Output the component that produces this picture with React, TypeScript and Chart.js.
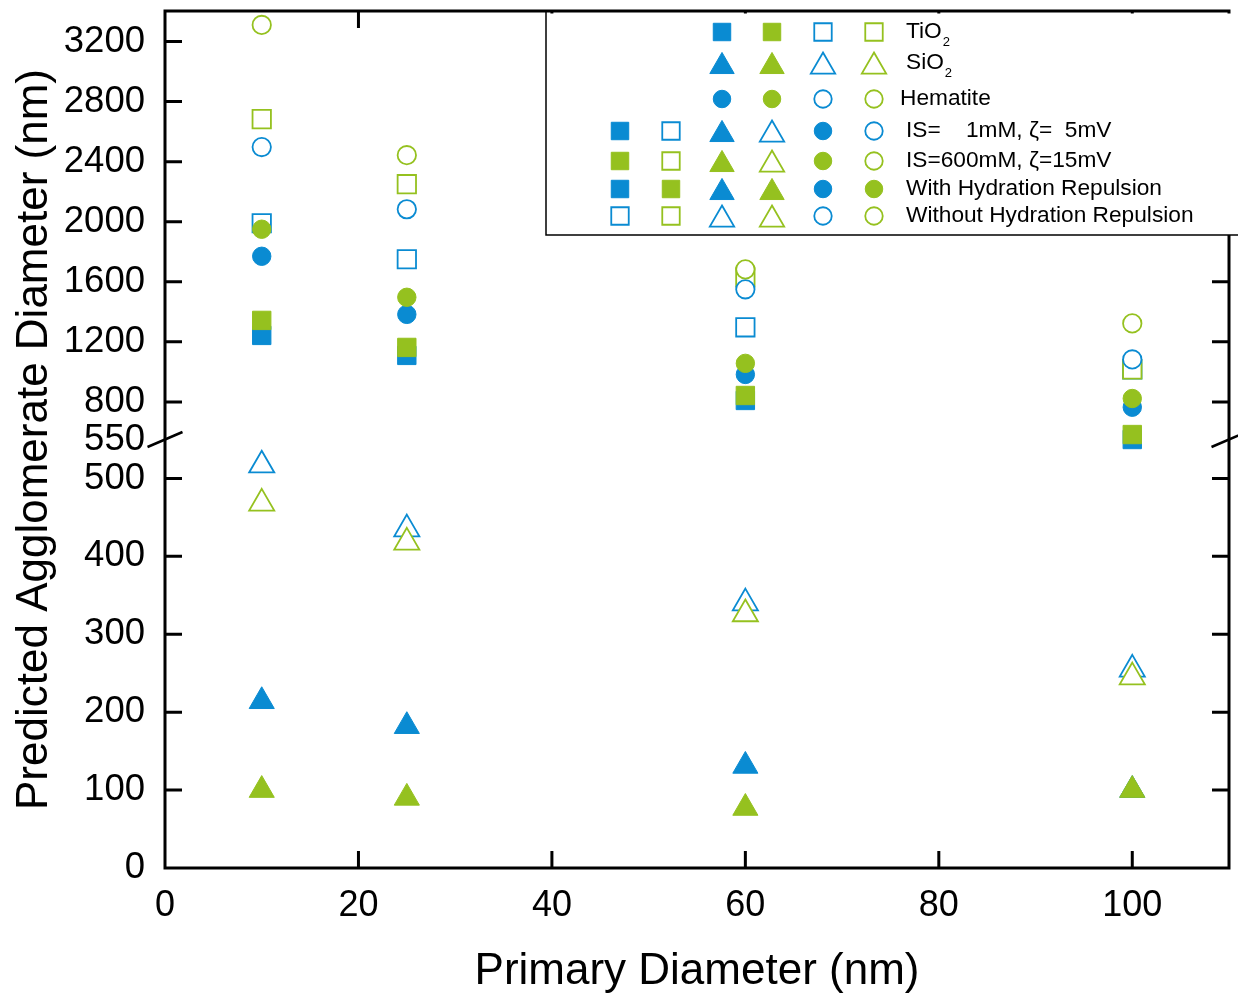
import React, { useEffect, useRef } from 'react';
import { Chart, registerables } from 'chart.js';

Chart.register(...registerables);

// Primary particle diameters (nm)
const PRIMARY_DIAMETER = [10, 25, 60, 100];

// TiO2 (squares)
const TIO2_1MM_WITH = [1243, 1110, 810, 550];
const TIO2_600MM_WITH = [1343, 1163, 843, 583];
const TIO2_1MM_WITHOUT = [1990, 1750, 1297, 1017];
const TIO2_600MM_WITHOUT = [2683, 2250, 1630, 1017];

// SiO2 (triangles)
const SIO2_1MM_WITH = [214, 182, 131, 100];
const SIO2_600MM_WITH = [100, 90, 77, 100];
const SIO2_1MM_WITHOUT = [517, 435, 340, 255];
const SIO2_600MM_WITHOUT = [468, 418, 326, 245];

// Hematite (circles)
const HEM_1MM_WITH = [1770, 1383, 983, 765];
const HEM_600MM_WITH = [1950, 1497, 1057, 823];
const HEM_1MM_WITHOUT = [2497, 2083, 1550, 1083];
const HEM_600MM_WITHOUT = [3310, 2443, 1683, 1323];

// Axes
const X_TICKS = [0, 20, 40, 60, 80, 100];
const X_MAX = 110;
const Y_LOWER_TICKS = [0, 100, 200, 300, 400, 500];
const Y_BREAK = 550;
const Y_UPPER_TICKS = [800, 1200, 1600, 2000, 2400, 2800, 3200];
const Y_TOP = 3403;

const BLUE = '#0a8bd2';
const GREEN = '#95c11f';
const FONT = "'Liberation Sans', Arial, Helvetica, sans-serif";

// Broken axis: 0..550 and 550..Y_TOP each take half of the axis height
const toAxis = (v: number) =>
  v <= Y_BREAK ? v : Y_BREAK + ((v - Y_BREAK) * Y_BREAK) / (Y_TOP - Y_BREAK);

const Y_TICK_VALUES = [...Y_LOWER_TICKS, Y_BREAK, ...Y_UPPER_TICKS];
const Y_TICK_LABELS = Y_TICK_VALUES.map((v) => String(v));

type Shape = 'rect' | 'circle' | 'triangle';
const RADIUS: Record<Shape, number> = { rect: 13, circle: 9.2, triangle: 14.5 };

// Drawing order, bottom first
const SERIES: { label: string; values: number[]; shape: Shape; color: string; filled: boolean }[] = [
  { label: 'TiO2 1mM without', values: TIO2_1MM_WITHOUT, shape: 'rect', color: BLUE, filled: false },
  { label: 'TiO2 600mM without', values: TIO2_600MM_WITHOUT, shape: 'rect', color: GREEN, filled: false },
  { label: 'Hematite 1mM without', values: HEM_1MM_WITHOUT, shape: 'circle', color: BLUE, filled: false },
  { label: 'Hematite 600mM without', values: HEM_600MM_WITHOUT, shape: 'circle', color: GREEN, filled: false },
  { label: 'TiO2 1mM with', values: TIO2_1MM_WITH, shape: 'rect', color: BLUE, filled: true },
  { label: 'TiO2 600mM with', values: TIO2_600MM_WITH, shape: 'rect', color: GREEN, filled: true },
  { label: 'Hematite 1mM with', values: HEM_1MM_WITH, shape: 'circle', color: BLUE, filled: true },
  { label: 'Hematite 600mM with', values: HEM_600MM_WITH, shape: 'circle', color: GREEN, filled: true },
  { label: 'SiO2 1mM without', values: SIO2_1MM_WITHOUT, shape: 'triangle', color: BLUE, filled: false },
  { label: 'SiO2 600mM without', values: SIO2_600MM_WITHOUT, shape: 'triangle', color: GREEN, filled: false },
  { label: 'SiO2 1mM with', values: SIO2_1MM_WITH, shape: 'triangle', color: BLUE, filled: true },
  { label: 'SiO2 600mM with', values: SIO2_600MM_WITH, shape: 'triangle', color: GREEN, filled: true },
];

// Legend: symbol columns, rows of [shape, colour, filled] and the row text
type Sym = [Shape, string, boolean];
const LEGEND_COLUMNS = [620, 671, 722, 772, 823, 874];
const LEGEND_ROWS: { y: number; text: string; sub?: string; textX: number; start: number; symbols: Sym[] }[] = [
  { y: 32, text: 'TiO', sub: '2', textX: 906, start: 2, symbols: [['rect', BLUE, true], ['rect', GREEN, true], ['rect', BLUE, false], ['rect', GREEN, false]] },
  { y: 63, text: 'SiO', sub: '2', textX: 906, start: 2, symbols: [['triangle', BLUE, true], ['triangle', GREEN, true], ['triangle', BLUE, false], ['triangle', GREEN, false]] },
  { y: 99, text: 'Hematite', textX: 900, start: 2, symbols: [['circle', BLUE, true], ['circle', GREEN, true], ['circle', BLUE, false], ['circle', GREEN, false]] },
  { y: 131, text: 'IS=    1mM, ζ=  5mV', textX: 906, start: 0, symbols: [['rect', BLUE, true], ['rect', BLUE, false], ['triangle', BLUE, true], ['triangle', BLUE, false], ['circle', BLUE, true], ['circle', BLUE, false]] },
  { y: 161, text: 'IS=600mM, ζ=15mV', textX: 906, start: 0, symbols: [['rect', GREEN, true], ['rect', GREEN, false], ['triangle', GREEN, true], ['triangle', GREEN, false], ['circle', GREEN, true], ['circle', GREEN, false]] },
  { y: 189, text: 'With Hydration Repulsion', textX: 906, start: 0, symbols: [['rect', BLUE, true], ['rect', GREEN, true], ['triangle', BLUE, true], ['triangle', GREEN, true], ['circle', BLUE, true], ['circle', GREEN, true]] },
  { y: 216, text: 'Without Hydration Repulsion', textX: 906, start: 0, symbols: [['rect', BLUE, false], ['rect', GREEN, false], ['triangle', BLUE, false], ['triangle', GREEN, false], ['circle', BLUE, false], ['circle', GREEN, false]] },
];

function drawMarker(ctx: CanvasRenderingContext2D, shape: Shape, x: number, y: number, r: number, color: string, filled: boolean) {
  ctx.beginPath();
  if (shape === 'rect') {
    const s = r * Math.SQRT1_2;
    ctx.rect(x - s, y - s, 2 * s, 2 * s);
  } else if (shape === 'circle') {
    ctx.arc(x, y, r, 0, Math.PI * 2);
  } else {
    for (let k = 0; k < 3; k++) {
      const a = (k * 2 * Math.PI) / 3;
      const px = x + Math.sin(a) * r;
      const py = y - Math.cos(a) * r;
      if (k === 0) ctx.moveTo(px, py);
      else ctx.lineTo(px, py);
    }
    ctx.closePath();
  }
  ctx.fillStyle = filled ? color : '#ffffff';
  ctx.fill();
  ctx.strokeStyle = color;
  ctx.lineWidth = filled ? 1 : 1.8;
  ctx.stroke();
}

const framePlugin = {
  id: 'frameAndLegend',
  afterDraw(chart: any) {
    const { ctx, chartArea: a, scales } = chart;
    const xs = scales.x;
    const ys = scales.y;
    const TICK = 17;
    ctx.save();
    ctx.strokeStyle = '#000';
    ctx.lineWidth = 3;
    ctx.lineJoin = 'miter';

    // inward ticks on all four sides
    ctx.beginPath();
    X_TICKS.filter((v) => v > 0).forEach((v) => {
      const px = xs.getPixelForValue(v);
      ctx.moveTo(px, a.bottom);
      ctx.lineTo(px, a.bottom - TICK);
      ctx.moveTo(px, a.top);
      ctx.lineTo(px, a.top + TICK);
    });
    [...Y_LOWER_TICKS, ...Y_UPPER_TICKS].filter((v) => v > 0).forEach((v) => {
      const py = ys.getPixelForValue(toAxis(v));
      ctx.moveTo(a.left, py);
      ctx.lineTo(a.left + TICK, py);
      ctx.moveTo(a.right, py);
      ctx.lineTo(a.right - TICK, py);
    });
    ctx.stroke();

    // frame
    ctx.strokeRect(a.left, a.top, a.right - a.left, a.bottom - a.top);

    // axis break marks
    const by = ys.getPixelForValue(toAxis(Y_BREAK));
    ctx.lineWidth = 2.5;
    ctx.beginPath();
    [a.left, a.right].forEach((ax) => {
      ctx.moveTo(ax - 17.5, by + 7.5);
      ctx.lineTo(ax + 17.5, by - 7.5);
    });
    ctx.stroke();

    // legend box
    const lx = 546;
    const lTop = 12;
    const lBottom = 235;
    ctx.fillStyle = '#ffffff';
    ctx.fillRect(lx, lTop + 1.5, chart.width - lx, lBottom - lTop - 1.5);
    ctx.lineWidth = 1.5;
    ctx.strokeStyle = '#000';
    ctx.beginPath();
    ctx.moveTo(chart.width + 2, lBottom);
    ctx.lineTo(lx, lBottom);
    ctx.lineTo(lx, lTop);
    ctx.stroke();

    LEGEND_ROWS.forEach((row) => {
      row.symbols.forEach(([shape, color, filled], i) => {
        const cx = LEGEND_COLUMNS[row.start + i];
        const cy = shape === 'triangle' ? row.y + 3.5 : row.y;
        drawMarker(ctx, shape, cx, cy, RADIUS[shape] * (shape === 'triangle' ? 0.97 : 0.95), color, filled);
      });
      ctx.fillStyle = '#000';
      ctx.textBaseline = 'middle';
      ctx.textAlign = 'left';
      ctx.font = `22.7px ${FONT}`;
      ctx.fillText(row.text, row.textX, row.y);
      if (row.sub) {
        const w = ctx.measureText(row.text).width;
        ctx.font = `13px ${FONT}`;
        ctx.fillText(row.sub, row.textX + w + 1, row.y + 10);
      }
    });
    ctx.restore();
  },
};

export default function App() {
  const canvasRef = useRef<HTMLCanvasElement>(null);

  useEffect(() => {
    const canvas = canvasRef.current;
    if (!canvas) return;
    const n = SERIES.length;
    const datasets = SERIES.map((s, i) => ({
      label: s.label,
      data: PRIMARY_DIAMETER.map((x, k) => ({ x, y: toAxis(s.values[k]) })),
      pointStyle: s.shape,
      pointRadius: RADIUS[s.shape],
      pointBackgroundColor: s.filled ? s.color : '#ffffff',
      pointBorderColor: s.color,
      pointBorderWidth: s.filled ? 1 : 1.8,
      showLine: false,
      order: n - i,
      clip: false as any,
    }));

    const chart = new Chart(canvas, {
      type: 'scatter',
      data: { datasets },
      options: {
        animation: false,
        responsive: false,
        devicePixelRatio: 1,
        events: [],
        layout: { autoPadding: false, padding: { left: 0, top: 11, right: 9, bottom: 0 } },
        plugins: { legend: { display: false }, tooltip: { enabled: false } },
        scales: {
          x: {
            type: 'linear',
            min: 0,
            max: X_MAX,
            grid: { display: false },
            border: { display: false },
            afterBuildTicks: (s: any) => {
              s.ticks = X_TICKS.map((v) => ({ value: v }));
            },
            afterFit: (s: any) => {
              s.height = 125;
              s.paddingLeft = 0;
              s.paddingRight = 0;
              s.paddingTop = 0;
              s.paddingBottom = 0;
            },
            ticks: {
              autoSkip: false,
              maxRotation: 0,
              padding: 8,
              color: '#000',
              font: { family: FONT, size: 36 },
              callback: (v: any) => String(v),
            },
            title: {
              display: true,
              text: 'Primary Diameter (nm)',
              color: '#000',
              font: { family: FONT, size: 44 },
              padding: { top: 0, bottom: -5 },
            },
          },
          y: {
            type: 'linear',
            min: 0,
            max: toAxis(Y_TOP),
            grid: { display: false },
            border: { display: false },
            afterBuildTicks: (s: any) => {
              s.ticks = Y_TICK_VALUES.map((v) => ({ value: toAxis(v) }));
            },
            afterFit: (s: any) => {
              s.width = 165;
              s.paddingLeft = 0;
              s.paddingRight = 0;
              s.paddingTop = 0;
              s.paddingBottom = 0;
            },
            ticks: {
              autoSkip: false,
              padding: 12,
              color: '#000',
              font: { family: FONT, size: 36.5 },
              callback: (_v: any, i: number) => Y_TICK_LABELS[i],
            },
            title: {
              display: true,
              text: 'Predicted Agglomerate Diameter (nm)',
              color: '#000',
              font: { family: FONT, size: 44 },
              padding: { top: 8, bottom: 0 },
            },
          },
        },
      },
      plugins: [framePlugin],
    } as any);

    return () => chart.destroy();
  }, []);

  return (
    <div style={{ position: 'fixed', left: 0, top: 0, width: 1238, height: 993, background: '#ffffff' }}>
      <canvas ref={canvasRef} width={1238} height={993} style={{ display: 'block' }} />
    </div>
  );
}
